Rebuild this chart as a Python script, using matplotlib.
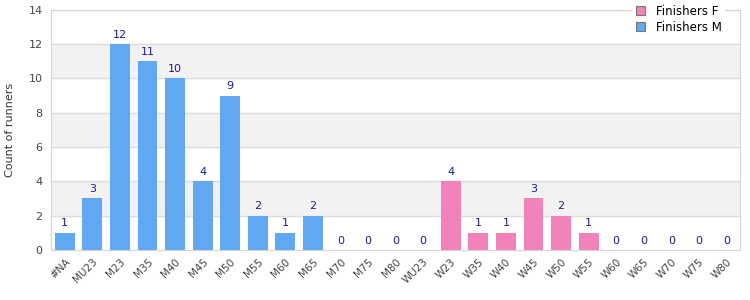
import matplotlib.pyplot as plt
import numpy as np

categories = ["#NA", "MU23", "M23", "M35", "M40", "M45", "M50", "M55", "M60", "M65",
              "M70", "M75", "M80", "WU23", "W23", "W35", "W40", "W45", "W50", "W55",
              "W60", "W65", "W70", "W75", "W80"]
# counts per category (men first, then women)
male_counts = [1, 3, 12, 11, 10, 4, 9, 2, 1, 2, 0, 0, 0, 0]
female_counts = [4, 1, 1, 3, 2, 1, 0, 0, 0, 0, 0]

BLUE = "#61a8f2"
PINK = "#f183ba"
LABEL = "#1c1c8c"

plt.rcParams['font.family'] = ['DejaVu Sans']
fig = plt.figure(figsize=(7.5, 3), dpi=100)
ax = fig.add_axes([0.068, 0.167, 0.919, 0.8])

n_m = len(male_counts)
xm = np.arange(n_m)
xf = np.arange(n_m, n_m + len(female_counts))

# alternating background bands
for lo in (2, 6, 10):
    ax.axhspan(lo, lo + 2, color="#f2f2f2", zorder=0)
for y in range(2, 15, 2):
    ax.axhline(y, color="#dcdcdc", lw=1, zorder=1)

ax.bar(xf, female_counts, width=0.72, color=PINK, label="Finishers F", zorder=2)
ax.bar(xm, male_counts, width=0.72, color=BLUE, label="Finishers M", zorder=2)

for x, v in zip(list(xm) + list(xf), male_counts + female_counts):
    ax.text(x, v + 0.25, str(v), ha="center", va="bottom", fontsize=8, color=LABEL, zorder=3)

ax.set_xlim(-0.5, len(categories) - 0.5)
ax.set_ylim(0, 14)
ax.set_yticks(range(0, 15, 2))
ax.set_xticks(range(len(categories)))
ax.set_xticklabels(categories, rotation=45, ha="right", rotation_mode="anchor", fontsize=7.5, color="#444444")
ax.tick_params(axis="y", labelsize=8, colors="#444444", length=0, pad=6)
ax.tick_params(axis="x", length=0, pad=5)
ax.set_ylabel("Count of runners", fontsize=8, color="#333333", labelpad=10)

for s in ax.spines.values():
    s.set_color("#d4d4d4")

leg = ax.legend(loc="upper right", bbox_to_anchor=(0.985, 1.055), fontsize=8.5, frameon=True,
                handlelength=0.8, handleheight=0.8, borderpad=0.2, labelspacing=0.25,
                handletextpad=0.9, fancybox=False, framealpha=1, edgecolor="white")
for h in leg.legend_handles:
    h.set_edgecolor("#777777")
    h.set_linewidth(0.8)

fig.savefig("out.png")
